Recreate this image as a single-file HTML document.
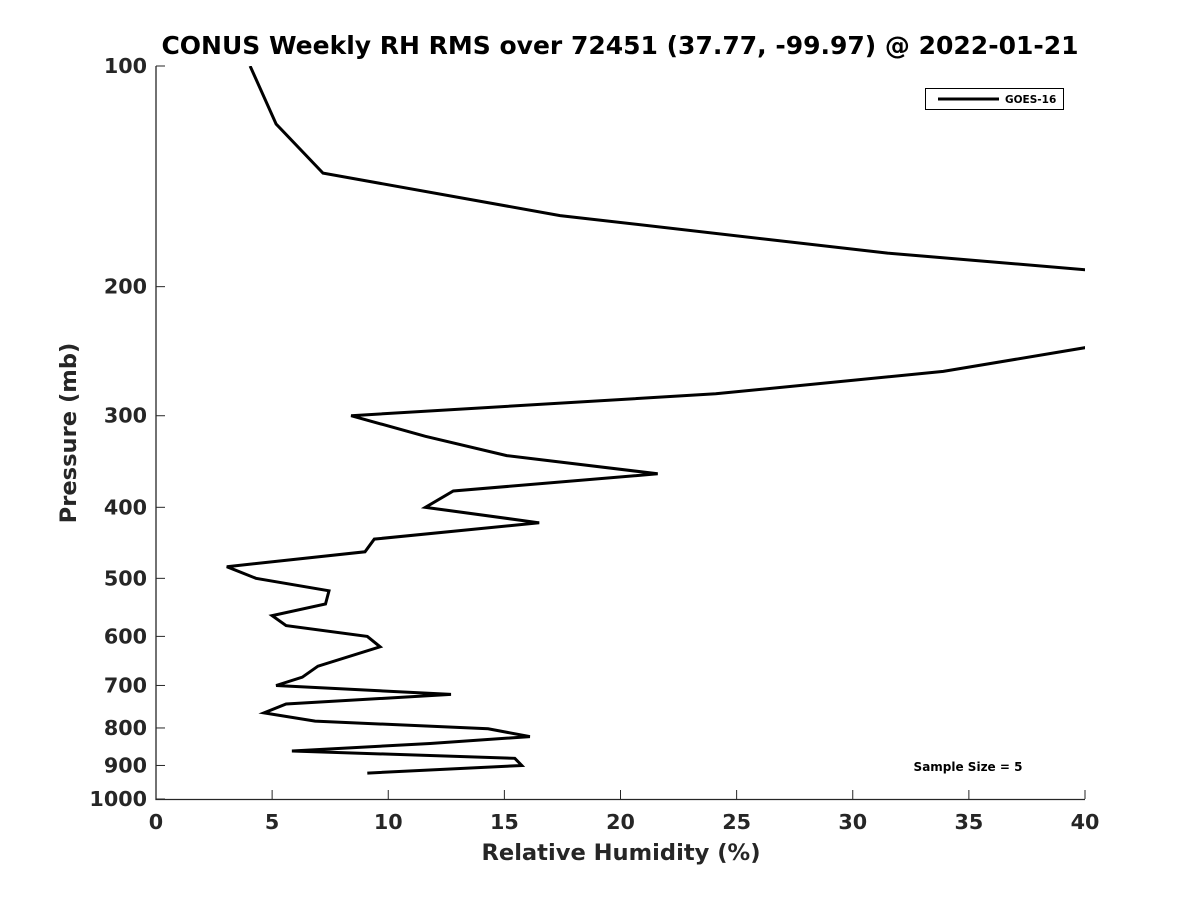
<!DOCTYPE html>
<html><head><meta charset="utf-8"><style>
body{margin:0;background:#fff;}
svg text{font-family:"DejaVu Sans","Liberation Sans",sans-serif;font-weight:bold;fill:#262626;}
</style></head><body>
<svg id="chart" width="1200" height="900" viewBox="0 0 1200 900">
<rect width="1200" height="900" fill="#fff"/>
<text x="620" y="54" font-size="25" text-anchor="middle" fill="#000" style="fill:#000">CONUS Weekly RH RMS over 72451 (37.77, -99.97) @ 2022-01-21</text>
<g id="axes"></g>
<defs><clipPath id="plotclip"><rect x="156" y="66" width="929" height="733"/></clipPath></defs>
<g id="series" clip-path="url(#plotclip)"></g>
<g>
<rect x="925.5" y="88.5" width="138" height="21" fill="#fff" stroke="#000" stroke-width="1"/>
<line x1="938" y1="99" x2="999" y2="99" stroke="#000" stroke-width="3"/>
<text x="1005" y="103" font-size="10.5" fill="#000" style="fill:#000">GOES-16</text>
</g>
<text x="968" y="771" font-size="12" text-anchor="middle" fill="#000" style="fill:#000">Sample Size = 5</text>
<text x="621" y="860" font-size="22.6" text-anchor="middle">Relative Humidity (%)</text>
<text transform="translate(76,433) rotate(-90)" font-size="22.6" text-anchor="middle">Pressure (mb)</text>
</svg>
<script>
const pressures=[100,120,140,160,180,190,215,242,261,280,300,320,340,360,380,400,420,442,460,482,500,520,542,562,580,600,620,659,682,700,720,742,763,783,802,822,840,860,880,900,922];
const rh=[4.05,5.17,7.19,17.4,31.5,40.3,45,40.1,33.9,24.1,8.4,11.6,15.1,21.6,12.8,11.6,16.5,9.4,9.0,3.05,4.3,7.45,7.3,5.0,5.6,9.1,9.65,6.97,6.3,5.17,12.7,5.6,4.65,6.85,14.3,16.1,11.8,5.85,15.45,15.75,9.1];
const xTicks=[0,5,10,15,20,25,30,35,40];
const yTicks=[100,200,300,400,500,600,700,800,900,1000];
const X0=156,X1=1085,Y0=66,Y1=799;
function xs(v){return X0+(v-0)/(40-0)*(X1-X0);}
function ys(p){return Y0+Math.log10(p/100)*(Y1-Y0);}
const NS="http://www.w3.org/2000/svg";
const axes=document.getElementById('axes');
function mk(tag,attrs,parent){const e=document.createElementNS(NS,tag);for(const k in attrs)e.setAttribute(k,attrs[k]);parent.appendChild(e);return e;}
const ax=mk('path',{d:`M${X0},${Y0}V${Y1+0.5}H${X1}`,fill:'none',stroke:'#262626','stroke-width':1.3},axes);


xTicks.forEach(v=>{
  const x=xs(v);
  const t=mk('line',{x1:x,x2:x,y1:Y1,y2:Y1-9,stroke:'#262626','stroke-width':1},axes);
  
  
  const l=mk('text',{x:x,y:Y1+30,'font-size':20.7,'text-anchor':'middle'},axes);
  l.textContent=v;
  
  
});
yTicks.forEach(p=>{
  const y=ys(p);
  const t=mk('line',{x1:X0,x2:X0+9,y1:y,y2:y,stroke:'#262626','stroke-width':1},axes);
  
  
  const l=mk('text',{x:X0-9,y:y+7,'font-size':20.7,'text-anchor':'end'},axes);
  l.textContent=p;
  
  
});
const pts=pressures.map((p,i)=>xs(rh[i]).toFixed(1)+','+ys(p).toFixed(1)).join(' ');
const line=mk('polyline',{points:pts,fill:'none',stroke:'#000','stroke-width':3,'stroke-linejoin':'miter'},document.getElementById('series'));


</script>
</body></html>
